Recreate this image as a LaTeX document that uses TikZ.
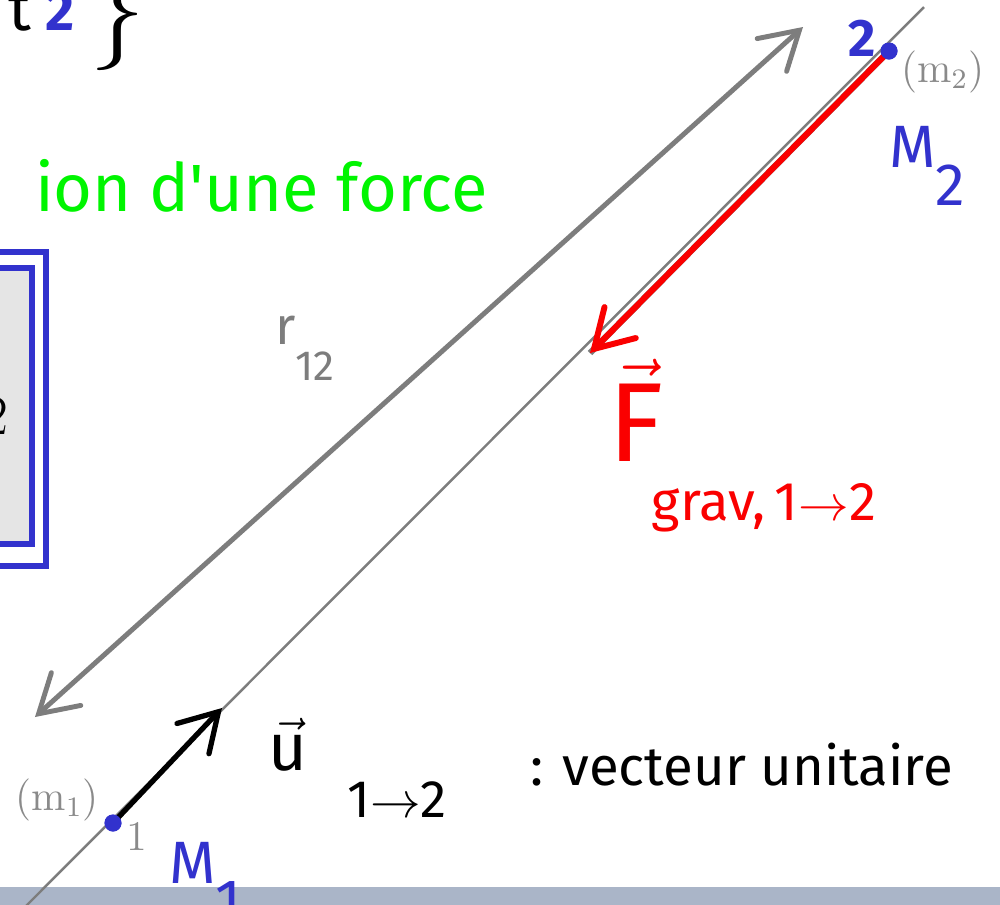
\documentclass[tikz,border=0pt]{standalone}
\usepackage{fontspec}
\newfontfamily\hand{Fira Sans}
\usetikzlibrary{arrows.meta, positioning, calc}
\definecolor{penblue}{RGB}{50,50,205}
\definecolor{pengreen}{RGB}{0,245,0}
\definecolor{penred}{RGB}{250,0,0}
\definecolor{pengray}{RGB}{125,125,125}
\definecolor{bargray}{RGB}{170,181,200}
\tikzset{
  dot/.style={circle, fill=penblue, inner sep=0pt, minimum size=1.7mm},
  pen/.style={font=\hand\fontsize{#1}{#1}\selectfont, inner sep=1pt},
  pen/.default=14,
  printed/.style={text=pengray!90, font=\fontsize{12}{12}\selectfont, inner sep=1pt},
  barb/.style={-{Straight Barb[length=3.7mm, width=4.4mm, line cap=round]}, line cap=round},
  dbarb/.style={{Straight Barb[length=3.7mm, width=4.4mm, line cap=round]}-{Straight Barb[length=3.7mm, width=4.4mm, line cap=round]}, line cap=round},
}
\begin{document}
\begin{tikzpicture}[x=0.1mm, y=-0.1mm]
    \clip (0,0) rectangle (1000,905);
    \fill[white] (0,0) rectangle (1000,905);
    \fill[bargray] (0,887) rectangle (1000,905);
    \node[pen=18, anchor=base] (t) at (20,30) {t};
    \node[pen=16, text=penblue, font=\hand\bfseries\fontsize{16}{16}\selectfont, anchor=base] (two) at (60,30) {2};
    \node[font=\fontsize{32}{32}\selectfont] (brace) at (118,14) {\}};
    \node[pen=19, text=pengreen, anchor=east] (title) at (492,186) {ion d'une force};
    \draw[penblue, line width=1.5pt] (-10,252) rectangle (46,566);
    \draw[penblue, line width=1.5pt, fill=black!10] (-10,268) rectangle (32,544);
    \node[font=\fontsize{16}{16}\selectfont, anchor=east, inner sep=0pt] (box) at (9,416) {2};
    \coordinate (l0) at (22,910);
    \coordinate (l1) at (924,7);
    \node[dot] (m1) at (113,823) {};
    \node[dot] (m2) at (889,51) {};
    \coordinate (ra) at (35,717);
    \coordinate (rb) at (803,27);
    \coordinate (ft) at (590,353);
    \coordinate (ut) at (222,708);
    \draw[pengray, line width=0.7pt] (l0) -- (l1);
    \draw[pengray, line width=1.4pt, dbarb] (ra) -- (rb);
    \node[pen=15, text=pengray] (r) at (305,348) {r\raisebox{-1.3ex}{\fontsize{12}{12}\selectfont 12}};
    \draw[pengray, line width=1.8pt, shift={(-3,-3)}] (m2.center) -- (ft);
    \draw[penred, line width=1.7pt, barb] (m2.center) -- (ft);
    \draw[black, line width=1.5pt, barb] (m1.center) -- (ut);
    \node[dot] at (m1) {};
    \node[dot] at (m2) {};
    \node[printed, anchor=west] (mm2) at (897,72) {(m$_2$)};
    \node[printed, anchor=east] (mm1) at (103,800) {(m$_1$)};
    \node[printed] (n1) at (137,836) {1};
    \node[pen=15, text=penblue, font=\hand\bfseries\fontsize{15}{15}\selectfont] (n2) at (862,38) {2};
    \node[pen=17, text=penblue, anchor=north west] (M2) at (885,122) {M\raisebox{-1.2ex}{2}};
    \node[pen=17, text=penblue, anchor=north west] (M1) at (165,838) {M\raisebox{-1.2ex}{1}};
    \node[pen=32, text=penred] (F) at (636,410) {$\vec{\hbox{\hand F}}$};
    \node[pen=15.5, text=penred] (grav) at (764,508) {grav,\,1$\to$2};
    \node[pen=19] (u) at (288,745) {$\vec{\hbox{\hand u}}$};
    \node[pen=15] (sub) at (397,800) {1$\to$2};
    \node[pen=15.5, anchor=west] (vec) at (526,765) {: vecteur unitaire};
\end{tikzpicture}
\end{document}
